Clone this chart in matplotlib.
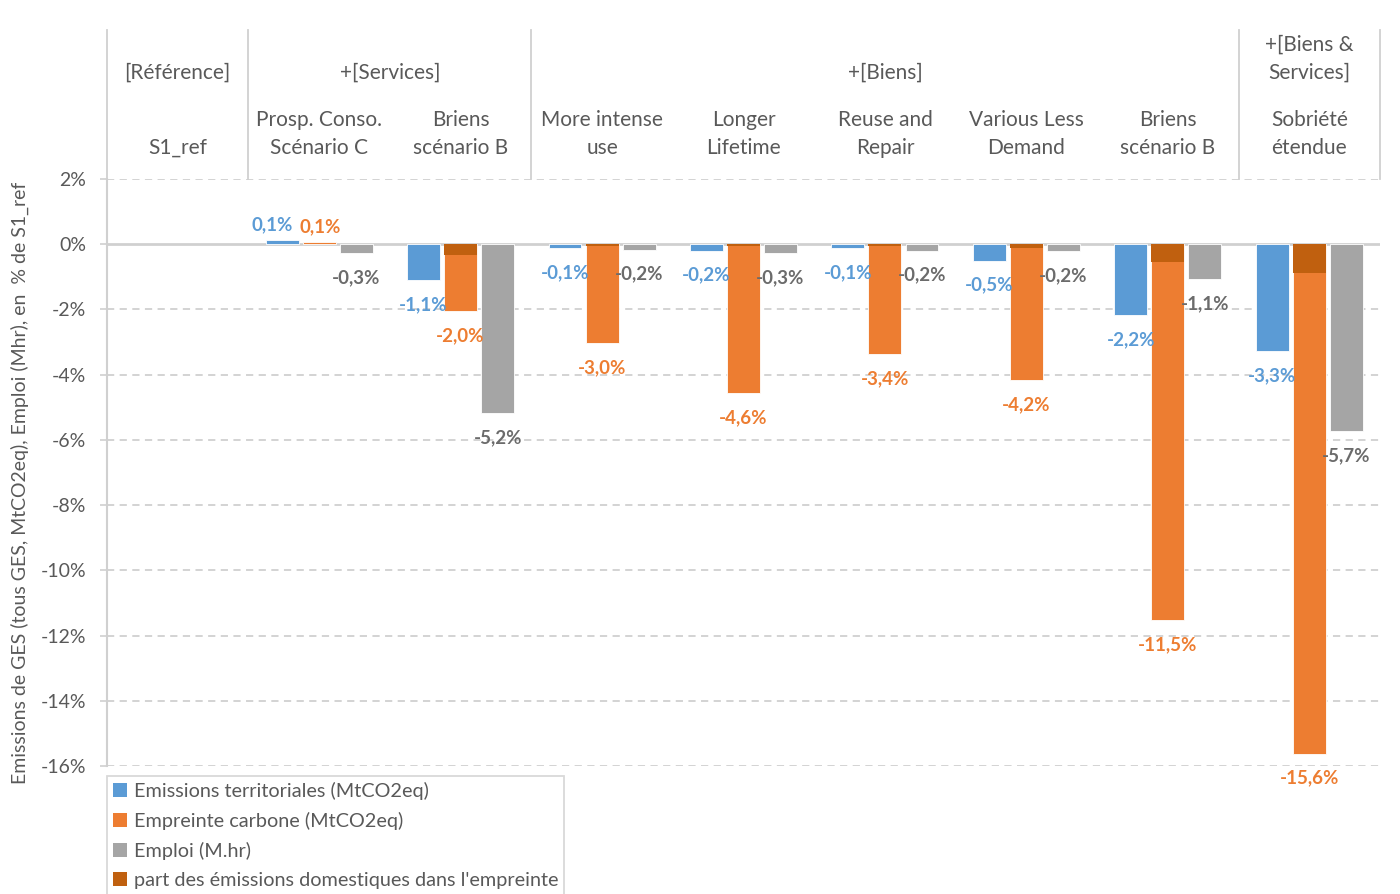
import matplotlib
matplotlib.use("Agg")
import matplotlib.pyplot as plt
import numpy as np
from matplotlib.patches import Patch

plt.rcParams['font.family'] = ['Lato', 'DejaVu Sans']

# ---------------- data ----------------
groups = ["[Référence]", "+[Services]", "+[Biens]", "+[Biens &\nServices]"]
group_spans = [(0, 0), (1, 2), (3, 7), (8, 8)]
categories = ["S1_ref", "Prosp. Conso.\nScénario C", "Briens\nscénario B",
              "More intense\nuse", "Longer\nLifetime", "Reuse and\nRepair",
              "Various Less\nDemand", "Briens\nscénario B", "Sobriété\nétendue"]
emissions_terr = [np.nan, 0.12, -1.10, -0.12, -0.20, -0.12, -0.50, -2.18, -3.28]
empreinte = [np.nan, 0.06, -2.05, -3.04, -4.57, -3.37, -4.17, -11.53, -15.63]
emploi = [np.nan, -0.28, -5.18, -0.17, -0.28, -0.20, -0.22, -1.07, -5.74]
part_domestique = [np.nan, 0.0, -0.34, -0.04, -0.06, -0.05, -0.13, -0.55, -0.87]
yticks = [2, 0, -2, -4, -6, -8, -10, -12, -14, -16]
series_names = ["Emissions territoriales (MtCO2eq)", "Empreinte carbone (MtCO2eq)",
                "Emploi (M.hr)", "part des émissions domestiques dans l'empreinte"]

c_blue = "#5B9BD5"
c_orange = "#ED7D31"
c_gray = "#A5A5A5"
c_dark = "#C0600F"
c_graylab = "#6B6B6B"
c_line = "#D0D0D0"
c_text = "#595959"

W, H = 1400, 894
fig = plt.figure(figsize=(W / 100, H / 100), dpi=100)
fig.patch.set_facecolor("white")

def fx(px):
    return px / W

def fy(py):
    return 1 - py / H

ax_l, ax_r, ax_t, ax_b = 107, 1380, 179, 766
ax = fig.add_axes([fx(ax_l), fy(ax_b), fx(ax_r) - fx(ax_l), fy(ax_t) - fy(ax_b)])

n = len(categories)
x = np.arange(n)
off = 0.262
bw = 0.233

ax.set_xlim(-0.5, n - 0.5)
ax.set_ylim(-16, 2)

for y in yticks:
    if y == 0:
        continue
    ax.axhline(y, color=c_line, lw=1.3, ls=(0, (4, 3)), zorder=0)
ax.axhline(0, color=c_line, lw=2, zorder=1)

ax.bar(x - off, emissions_terr, bw, color=c_blue, edgecolor="white", lw=0.6, zorder=2)
ax.bar(x, empreinte, bw, color=c_orange, edgecolor="white", lw=0.6, zorder=2)
ax.bar(x, part_domestique, bw, color=c_dark, edgecolor="none", lw=0, zorder=3)
ax.bar(x + off, emploi, bw, color=c_gray, edgecolor="white", lw=0.6, zorder=2)

def fmt(v):
    return f"{v:.1f}%".replace(".", ",")

for vals, xs, col, pos_dx in [(emissions_terr, x - off, c_blue, -7),
                              (empreinte, x, c_orange, 1),
                              (emploi, x + off, c_graylab, 0)]:
    for xi, v in zip(xs, vals):
        if np.isnan(v):
            continue
        if v > 0:
            dx, dy = pos_dx, 11.5
        else:
            dx, dy = 0, -17.5
        ax.annotate(fmt(v), (xi, v), xytext=(dx, dy), textcoords="offset points",
                    ha="center", va="center", fontsize=13.5, fontweight="bold",
                    color=col, zorder=5)

# axes styling
for s in ["top", "right", "bottom"]:
    ax.spines[s].set_visible(False)
ax.spines["left"].set_color(c_line)
ax.spines["left"].set_linewidth(1.5)
ax.set_xticks([])
ax.set_yticks(yticks)
ax.set_yticklabels([f"{t}%" for t in yticks], fontsize=14, color=c_text)
ax.tick_params(axis="y", length=5, width=1.2, color=c_line, pad=10)
fig.text(fx(20), fy(483), "Emissions de GES (tous GES, MtCO2eq), Emploi (Mhr), en  % de S1_ref",
         rotation=90, ha="center", va="center", fontsize=14, color=c_text)

# header table
top_px = 30
line_kw = dict(color=c_line, lw=1.3, transform=fig.transFigure)
fig.add_artist(plt.Line2D([fx(ax_l), fx(ax_l)], [fy(top_px), fy(ax_t)], **line_kw))
cat_w = (ax_r - ax_l) / n
for (a, b) in group_spans:
    xr = ax_l + (b + 1) * cat_w
    fig.add_artist(plt.Line2D([fx(xr), fx(xr)], [fy(top_px), fy(ax_t)], **line_kw))

for g, (a, b) in zip(groups, group_spans):
    cx = ax_l + ((a + b) / 2 + 0.5) * cat_w
    lines = g.split("\n")
    for i, ln in enumerate(reversed(lines)):
        fig.text(fx(cx), fy(73 - 28 * i), ln, ha="center", va="center",
                 fontsize=15, color=c_text)
for i, c in enumerate(categories):
    cx = ax_l + (i + 0.5) * cat_w
    lines = c.split("\n")
    for j, ln in enumerate(reversed(lines)):
        fig.text(fx(cx), fy(148 - 28 * j), ln, ha="center", va="center",
                 fontsize=15, color=c_text)

# legend
handles = [Patch(facecolor=c_blue), Patch(facecolor=c_orange),
           Patch(facecolor=c_gray), Patch(facecolor=c_dark)]
leg = fig.legend(handles, series_names, loc="upper left",
                 bbox_to_anchor=(fx(107), fy(776)), bbox_transform=fig.transFigure,
                 fontsize=14.3, frameon=True, fancybox=False, handlelength=0.7,
                 handleheight=0.7, handletextpad=0.35, labelspacing=0.6,
                 borderpad=0.3, borderaxespad=0)
leg.get_frame().set_edgecolor(c_line)
leg.get_frame().set_linewidth(1.3)
for t in leg.get_texts():
    t.set_color(c_text)

fig.savefig("out.png", dpi=100, facecolor="white")
